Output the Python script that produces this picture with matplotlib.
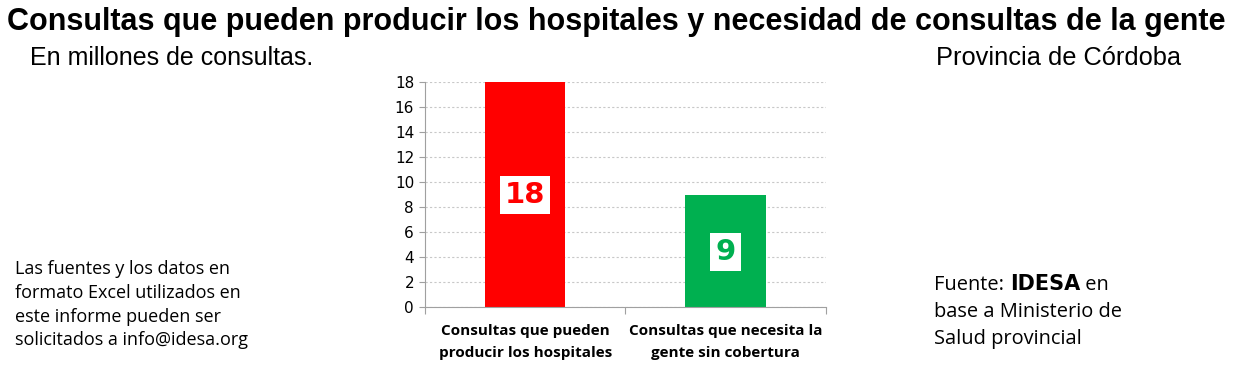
import matplotlib
matplotlib.use('Agg')
import matplotlib.pyplot as plt

categorias = ['Consultas que pueden\nproducir los hospitales', 'Consultas que necesita la\ngente sin cobertura']
valores = [18, 9]
colores = ['#ff0000', '#00b050']
etiquetas = ['18', '9']

fig = plt.figure(figsize=(12.36, 3.7), dpi=100)
ax = fig.add_axes([0.344, 0.170, 0.324, 0.608])

x = range(len(valores))
ax.bar(x, valores, width=0.4, color=colores, zorder=2)
for xi, v, c, t in zip(x, valores, colores, etiquetas):
    ax.text(xi, v / 2 + (0.0 if v > 10 else -0.1), t, ha='center', va='center', fontsize=21,
            fontweight='heavy', color=c, family='DejaVu Sans', zorder=3,
            bbox=dict(facecolor='white', edgecolor='none', pad=3.5))

ax.set_xlim(-0.5, 1.5)
ax.set_ylim(0, 18)
ax.set_yticks(range(0, 19, 2))
ax.tick_params(axis='y', labelsize=11, length=4, color='#a0a0a0', pad=4)
ax.set_xticks([-0.5, 0.5, 1.5])
ax.set_xticklabels([])
ax.tick_params(axis='x', length=5, color='#a0a0a0')
ax.yaxis.grid(True, linestyle=(0, (2, 2)), color='#c8c8c8', linewidth=0.8)
ax.set_axisbelow(True)
for s in ['top', 'right']:
    ax.spines[s].set_visible(False)
for s in ['left', 'bottom']:
    ax.spines[s].set_color('#a0a0a0')

for xi, cat in zip(x, categorias):
    ax.text(xi, -1.35, cat, ha='center', va='top', fontsize=11, fontweight='bold',
            family='Open Sans', linespacing=1.75, transform=ax.transData, clip_on=False)

fig.text(0.006, 0.94, 'Consultas que pueden producir los hospitales y necesidad de consultas de la gente',
         fontsize=22.0, fontweight='bold', family='Liberation Sans', va='center', ha='left')
fig.text(0.024, 0.842, 'En millones de consultas.', fontsize=18, family='Liberation Sans', va='center')
fig.text(0.757, 0.842, 'Provincia de Córdoba', fontsize=18.3, family='Liberation Sans', va='center')

fig.text(0.012, 0.176, 'Las fuentes y los datos en\nformato Excel utilizados en\neste informe pueden ser\nsolicitados a info@idesa.org',
         fontsize=13, family='Open Sans', va='center', linespacing=1.4)

fig.canvas.draw()
r = fig.canvas.get_renderer()
t1 = fig.text(0.756, 0.216, 'Fuente: ', fontsize=14.4, family='Open Sans', va='baseline')
bb = t1.get_window_extent(r).transformed(fig.transFigure.inverted())
t2 = fig.text(bb.x1, 0.216, 'IDESA', fontsize=15, family='DejaVu Sans', fontweight='heavy', va='baseline')
bb2 = t2.get_window_extent(r).transformed(fig.transFigure.inverted())
fig.text(bb2.x1, 0.216, ' en', fontsize=14.4, family='Open Sans', va='baseline')
fig.text(0.756, 0.143, 'base a Ministerio de', fontsize=14.4, family='Open Sans', va='baseline')
fig.text(0.756, 0.07, 'Salud provincial', fontsize=14.4, family='Open Sans', va='baseline')

fig.savefig('out.png', dpi=100)
